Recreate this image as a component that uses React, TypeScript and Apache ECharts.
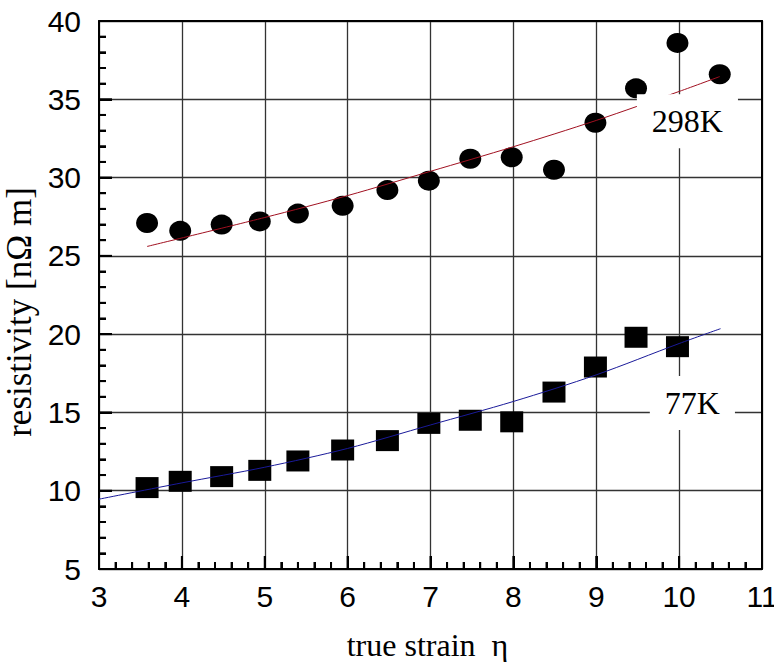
import React, { useEffect, useRef } from "react";
import * as echarts from "echarts";

// true strain (x) and resistivity (y) at 298 K – circles
const strain298 = [3.58, 3.98, 4.48, 4.94, 5.4, 5.94, 6.48, 6.98, 7.48, 7.98, 8.49, 8.99, 9.48, 9.98, 10.49];
const rho298 = [27.1, 26.6, 27.0, 27.2, 27.7, 28.2, 29.2, 29.8, 31.2, 31.3, 30.5, 33.5, 35.7, 38.6, 36.6];

// at 77 K – squares
const strain77 = [3.58, 3.98, 4.48, 4.94, 5.4, 5.94, 6.48, 6.98, 7.48, 7.98, 8.49, 8.99, 9.48, 9.98];
const rho77 = [10.2, 10.6, 10.9, 11.3, 11.9, 12.6, 13.2, 14.3, 14.5, 14.4, 16.3, 17.9, 19.8, 19.2];

// fitted curves
const fit298X = [3.58, 5, 6, 7, 8, 9, 10, 10.49];
const fit298Y = [25.6, 27.45, 28.85, 30.4, 31.97, 33.65, 35.5, 36.45];
const fit77X = [3, 4, 5, 6, 7, 8, 9, 10, 10.5];
const fit77Y = [9.46, 10.5, 11.5, 12.7, 14.2, 15.7, 17.4, 19.4, 20.35];

// curve labels
const labelTexts = ["298K", "77K"];
const labelX = [10.1, 10.16];
const labelY = [33.6, 15.6];

const xTicks = { min: 3, max: 11, interval: 1 };
const yTicks = { min: 5, max: 40, interval: 5 };
const xMinorStep = 0.2;
const yMinorStep = 1;

const zip = (xs: number[], ys: number[]) => xs.map((x, i) => [x, ys[i]]);
const steps = (min: number, max: number, step: number) => {
  const out: number[] = [];
  const n = Math.round((max - min) / step);
  for (let i = 1; i < n; i++) out.push(+(min + i * step).toFixed(4));
  return out;
};
const isMajor = (v: number, iv: number) => Math.abs(v / iv - Math.round(v / iv)) < 1e-6;

export default function App() {
  const ref = useRef<HTMLDivElement>(null);
  useEffect(() => {
    document.body.style.margin = "0";
    if (!ref.current) return;
    const chart = echarts.init(ref.current, undefined, { renderer: "svg" });
    const serif = "'Liberation Serif', 'Times New Roman', serif";
    const sans = "'Liberation Sans', Arial, sans-serif";
    const gridLine = { show: true, lineStyle: { color: "#333", width: 1.3 } };
    const frame = (pos: string, ticks: any) => ({
      type: "value",
      ...ticks,
      position: pos,
      axisLine: { show: true, onZero: false, lineStyle: { color: "#000", width: 2 } },
      axisTick: { show: false },
      axisLabel: { show: false },
      splitLine: { show: false },
    });
    const xv = steps(xTicks.min, xTicks.max, xMinorStep);
    const yv = steps(yTicks.min, yTicks.max, yMinorStep);
    const tickSeries = (name: string, data: number[][], size: number[], offset: number[]) => ({
      name,
      type: "scatter",
      data,
      symbol: "rect",
      symbolSize: size,
      symbolOffset: offset,
      itemStyle: { color: "#000", opacity: 1 },
      clip: false,
      silent: true,
      z: 4,
    });
    chart.setOption({
      animation: false,
      backgroundColor: "#fff",
      grid: { left: 99, right: 12, top: 21, bottom: 93, containLabel: false, outerBoundsMode: "none" },
      xAxis: [
        {
          type: "value",
          ...xTicks,
          position: "bottom",
          name: "true strain  η",
          nameLocation: "middle",
          nameGap: 60,
          nameTextStyle: { fontFamily: serif, fontSize: 32, color: "#000", padding: [0, 6, 0, 0] },
          axisLine: { show: true, onZero: false, lineStyle: { color: "#000", width: 2 } },
          axisTick: { show: true, inside: true, length: 13, lineStyle: { color: "#000", width: 2 } },
          minorTick: { show: true, splitNumber: 5, length: 7, lineStyle: { color: "#000", width: 2 } },
          splitLine: gridLine,
          axisLabel: { fontFamily: sans, fontSize: 30, color: "#000", margin: 12 },
        },
        frame("top", xTicks),
      ],
      yAxis: [
        {
          type: "value",
          ...yTicks,
          position: "left",
          name: "resistivity [nΩ m]",
          nameLocation: "middle",
          nameGap: 60,
          nameTextStyle: { fontFamily: serif, fontSize: 35, color: "#000", padding: [0, 34, 0, 0] },
          axisLine: { show: true, onZero: false, lineStyle: { color: "#000", width: 2 } },
          axisTick: { show: true, inside: true, length: 13, lineStyle: { color: "#000", width: 2 } },
          minorTick: { show: true, splitNumber: 5, length: 7, lineStyle: { color: "#000", width: 2 } },
          splitLine: gridLine,
          axisLabel: { fontFamily: sans, fontSize: 30, color: "#000", margin: 18 },
        },
        frame("right", yTicks),
      ],
      series: [
        tickSeries(
          "xMinorTicks",
          xv.filter((v) => !isMajor(v, xTicks.interval)).map((v) => [v, yTicks.min]),
          [2, 7],
          [0, -3.5]
        ),
        tickSeries(
          "xMajorTicks",
          xv.filter((v) => isMajor(v, xTicks.interval)).map((v) => [v, yTicks.min]),
          [2, 13],
          [0, -6.5]
        ),
        tickSeries(
          "yMinorTicks",
          yv.filter((v) => !isMajor(v, yTicks.interval)).map((v) => [xTicks.min, v]),
          [7, 2],
          [3.5, 0]
        ),
        tickSeries(
          "yMajorTicks",
          yv.filter((v) => isMajor(v, yTicks.interval)).map((v) => [xTicks.min, v]),
          [13, 2],
          [6.5, 0]
        ),
        {
          name: "298K",
          type: "scatter",
          data: zip(strain298, rho298),
          symbol: "circle",
          symbolSize: [22, 20],
          itemStyle: { color: "#000", opacity: 1 },
          z: 2,
        },
        {
          name: "77K",
          type: "scatter",
          data: zip(strain77, rho77),
          symbol: "rect",
          symbolSize: [23, 21],
          itemStyle: { color: "#000", opacity: 1 },
          z: 2,
        },
        {
          name: "fit298",
          type: "line",
          data: zip(fit298X, fit298Y),
          smooth: 0.3,
          showSymbol: false,
          lineStyle: { color: "#a01020", width: 1 },
          z: 3,
        },
        {
          name: "fit77",
          type: "line",
          data: zip(fit77X, fit77Y),
          smooth: 0.3,
          showSymbol: false,
          lineStyle: { color: "#1a1a9a", width: 1 },
          z: 3,
        },
        {
          name: "labels",
          type: "scatter",
          data: labelTexts.map((t, i) => ({ value: [labelX[i], labelY[i]], name: t })),
          symbolSize: 1,
          itemStyle: { color: "rgba(0,0,0,0)", opacity: 1 },
          label: {
            show: true,
            position: "inside",
            formatter: (p: any) => p.name,
            fontFamily: serif,
            fontSize: 32,
            color: "#000",
            backgroundColor: "#fff",
            padding: [11, 15],
          },
          z: 10,
        },
      ],
    });
    return () => chart.dispose();
  }, []);
  return <div ref={ref} style={{ width: 774, height: 662 }} />;
}
